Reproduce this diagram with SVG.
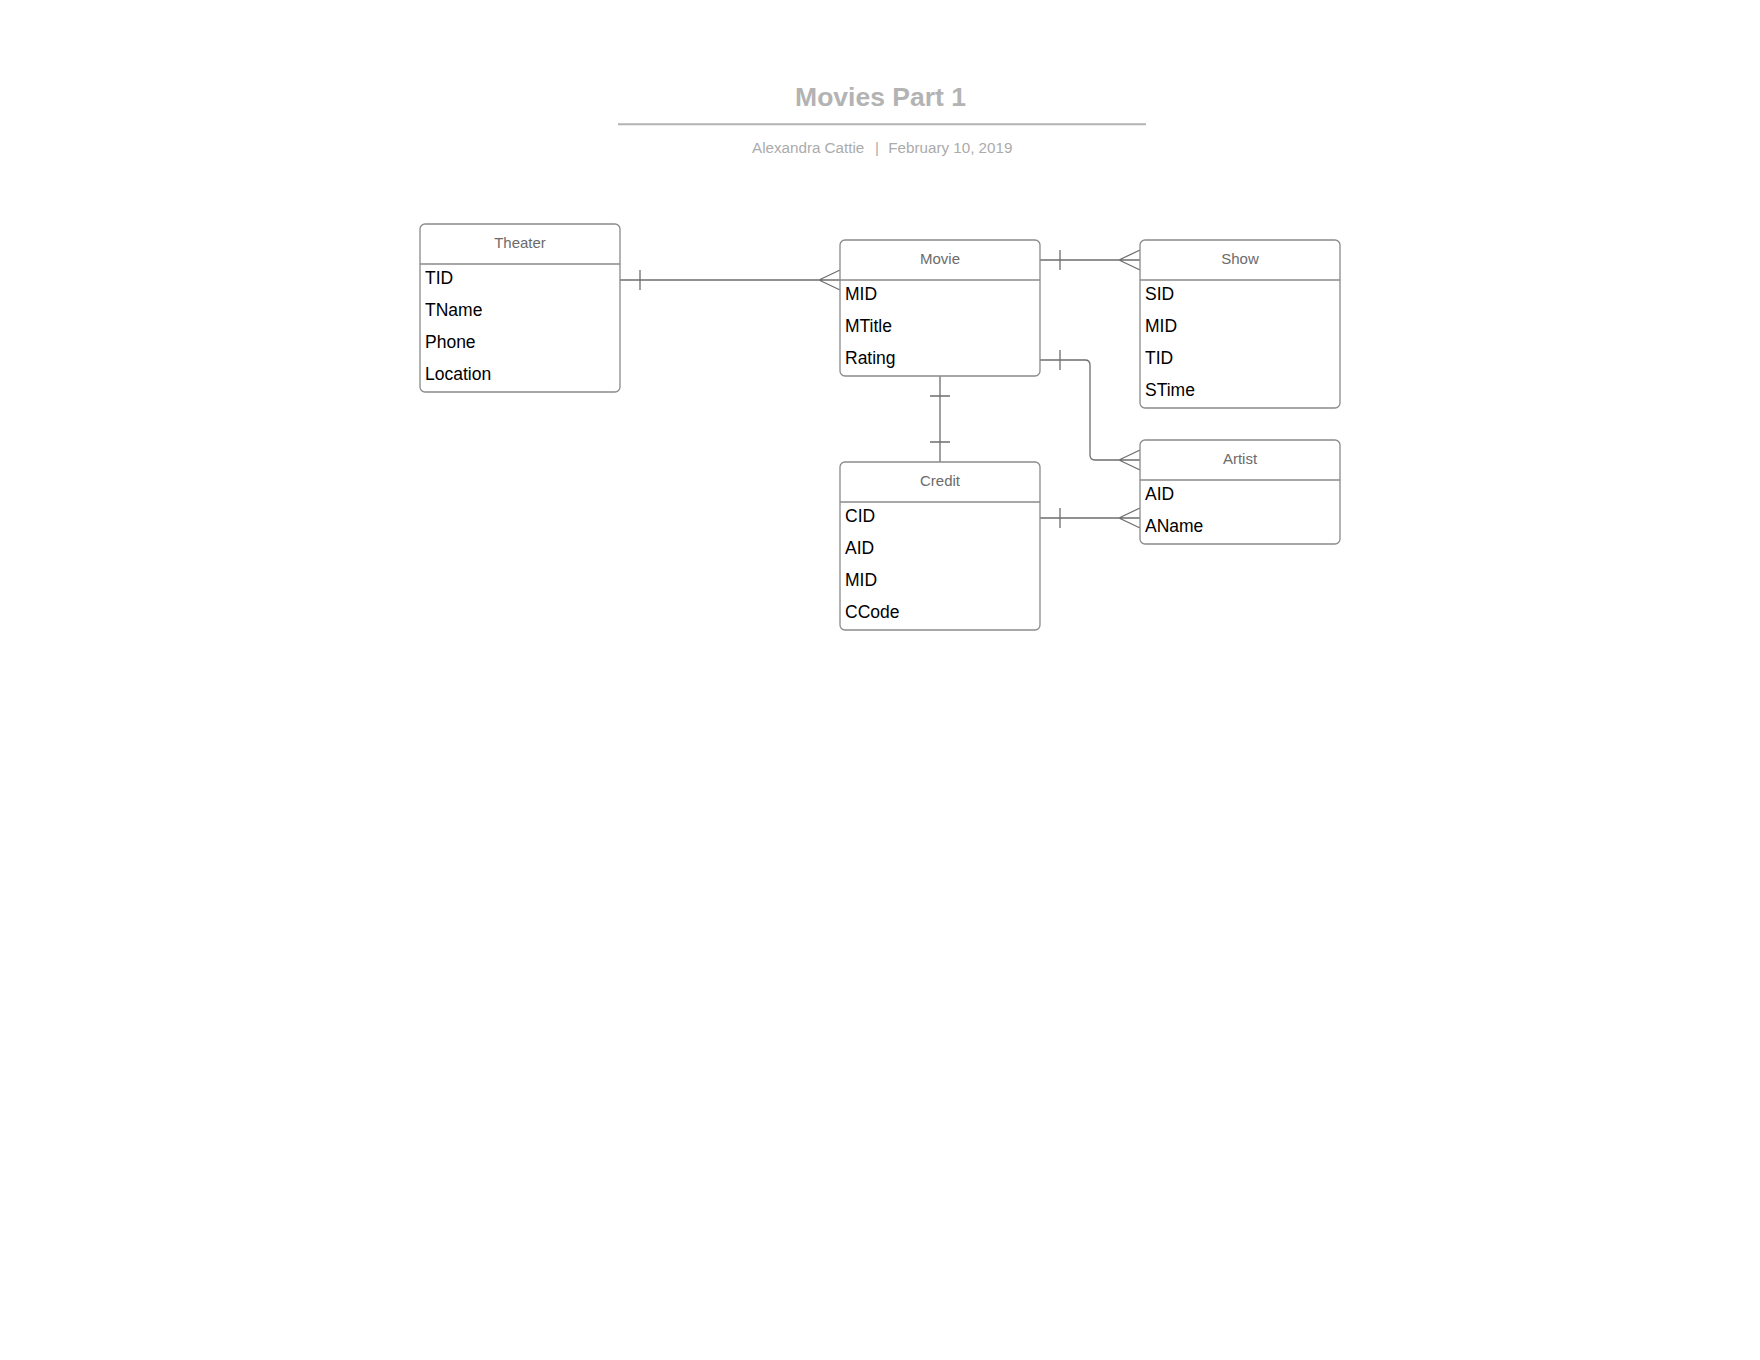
<svg xmlns="http://www.w3.org/2000/svg" width="1760" height="1360" viewBox="0 0 1760 1360">
<style>
.box{fill:#fff;stroke:#8a8a8a;stroke-width:1.3}
.sep{stroke:#8a8a8a;stroke-width:1.3}
.hdr{font-family:"Liberation Sans",Arial,sans-serif;font-size:15px;fill:#6b6b6b;text-anchor:middle}
.row{font-family:"Liberation Sans",Arial,sans-serif;font-size:17.5px;fill:#000}
.conn{fill:none;stroke:#6e6e6e;stroke-width:1.3}
.title{font-family:"Liberation Sans",Arial,sans-serif;font-size:26.5px;font-weight:bold;fill:#b3b3b3;text-anchor:middle}
.sub{font-family:"Liberation Sans",Arial,sans-serif;font-size:15.2px;fill:#ababab}
</style>
<rect width="1760" height="1360" fill="#fff"/>
<g id="title">
<text class="title" x="880.5" y="106">Movies Part 1</text>
<line x1="618" y1="124.3" x2="1146" y2="124.3" stroke="#b3b3b3" stroke-width="2"/>
<text class="sub" x="752" y="152.7">Alexandra Cattie</text>
<text class="sub" x="875" y="152.7">|</text>
<text class="sub" x="888.3" y="152.7">February 10, 2019</text>
</g>
<g id="connectors">
<path class="conn" d="M620 280 H840 M640 270 V290 M819 280 L840 270 M819 280 L840 290"/>
<path class="conn" d="M1040 260 H1140 M1060 250 V270 M1119 260 L1140 250 M1119 260 L1140 270"/>
<path class="conn" d="M1040 360 H1085 Q1090 360 1090 365 V455 Q1090 460 1095 460 H1140 M1060 350 V370 M1119 460 L1140 450 M1119 460 L1140 470"/>
<path class="conn" d="M940 376 V462 M930 396 H950 M930 442 H950"/>
<path class="conn" d="M1040 518 H1140 M1060 508 V528 M1119 518 L1140 508 M1119 518 L1140 528"/>
</g>
<g id="theater">
<rect class="box" x="420" y="224" width="200" height="168" rx="5"/>
<line class="sep" x1="420" y1="264" x2="620" y2="264"/>
<text class="hdr" x="520" y="247.5">Theater</text>
<text class="row" x="425" y="284">TID</text>
<text class="row" x="425" y="316">TName</text>
<text class="row" x="425" y="348">Phone</text>
<text class="row" x="425" y="380">Location</text>
</g>
<g id="movie">
<rect class="box" x="840" y="240" width="200" height="136" rx="5"/>
<line class="sep" x1="840" y1="280" x2="1040" y2="280"/>
<text class="hdr" x="940" y="263.5">Movie</text>
<text class="row" x="845" y="300">MID</text>
<text class="row" x="845" y="332">MTitle</text>
<text class="row" x="845" y="364">Rating</text>
</g>
<g id="show">
<rect class="box" x="1140" y="240" width="200" height="168" rx="5"/>
<line class="sep" x1="1140" y1="280" x2="1340" y2="280"/>
<text class="hdr" x="1240" y="263.5">Show</text>
<text class="row" x="1145" y="300">SID</text>
<text class="row" x="1145" y="332">MID</text>
<text class="row" x="1145" y="364">TID</text>
<text class="row" x="1145" y="396">STime</text>
</g>
<g id="artist">
<rect class="box" x="1140" y="440" width="200" height="104" rx="5"/>
<line class="sep" x1="1140" y1="480" x2="1340" y2="480"/>
<text class="hdr" x="1240" y="463.5">Artist</text>
<text class="row" x="1145" y="500">AID</text>
<text class="row" x="1145" y="532">AName</text>
</g>
<g id="credit">
<rect class="box" x="840" y="462" width="200" height="168" rx="5"/>
<line class="sep" x1="840" y1="502" x2="1040" y2="502"/>
<text class="hdr" x="940" y="485.5">Credit</text>
<text class="row" x="845" y="522">CID</text>
<text class="row" x="845" y="554">AID</text>
<text class="row" x="845" y="586">MID</text>
<text class="row" x="845" y="618">CCode</text>
</g>
</svg>
